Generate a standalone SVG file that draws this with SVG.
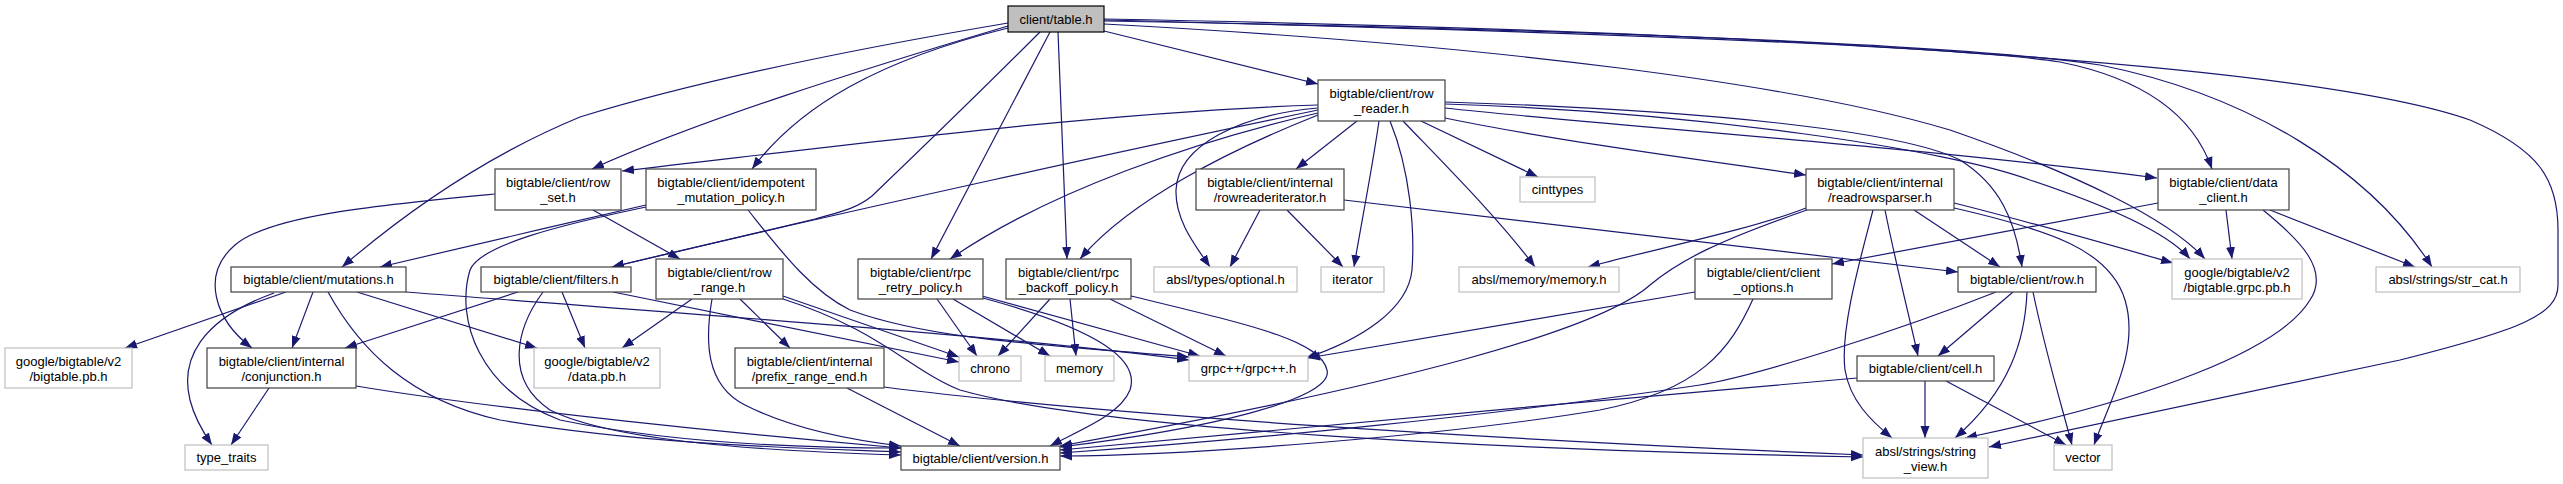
<svg xmlns="http://www.w3.org/2000/svg" width="2563" height="484" viewBox="0 0 2563 484">
<style>
text{font-family:"Liberation Sans",Arial,Helvetica,sans-serif;font-size:13px;text-anchor:middle;fill:#000}
.n rect{fill:#fff;stroke:#404040;stroke-width:1.2}
.x rect{fill:#fff;stroke:#bfbfbf;stroke-width:1.2}
.r rect{fill:#bfbfbf;stroke:#000;stroke-width:1.2}
#edges path{fill:none;stroke:#191970;stroke-width:1.2;marker-end:url(#a)}
</style>
<defs>
<marker id="a" markerUnits="userSpaceOnUse" markerWidth="13" markerHeight="10" refX="12" refY="5" orient="auto"><path d="M0,0.5 L12,5 L0,9.5z" fill="#191970"/></marker>
</defs>
<rect width="2563" height="484" fill="#fff"/>
<g id="edges">
<path d="M1104,31 L1318,84"/>
<path d="M1008,26 C860,70 700,120 592,169"/>
<path d="M1008,23 C860,48 700,80 580,117 C500,150 420,200 342,267"/>
<path d="M1008,28 C880,60 800,105 752,169"/>
<path d="M1040,32 C990,82 920,150 872,196 C855,210 835,213 815,219 L612,267"/>
<path d="M1050,32 L931,259"/>
<path d="M1058,32 C1061,120 1065,200 1067,259"/>
<path d="M1104,20 C1500,30 1950,45 2060,62 C2150,80 2195,120 2212,169"/>
<path d="M1104,24 C1500,45 1800,85 1950,130 C2080,175 2170,220 2205,259"/>
<path d="M1104,21 C1500,28 1950,42 2100,65 C2250,95 2370,170 2432,267"/>
<path d="M1104,19 C1700,30 2300,60 2470,120 C2540,150 2558,180 2558,230 L2558,285 C2558,315 2520,330 2400,360 L1989,447"/>
<path d="M1318,105 C1100,112 850,145 622,171"/>
<path d="M1318,110 C1150,145 850,210 612,267"/>
<path d="M1318,113 C1200,140 1050,190 950,259"/>
<path d="M1318,115 C1230,150 1130,200 1080,259"/>
<path d="M1318,108 C1240,115 1178,145 1176,190 C1175,220 1195,245 1210,267"/>
<path d="M1357,121 L1296,169"/>
<path d="M1379,121 C1372,170 1360,230 1354,267"/>
<path d="M1390,121 C1410,170 1415,230 1412,270 C1408,310 1360,340 1306,358"/>
<path d="M1403,121 C1450,170 1500,220 1535,267"/>
<path d="M1421,121 L1538,177"/>
<path d="M1440,117 C1550,140 1700,160 1806,175"/>
<path d="M1445,108 C1600,125 1900,145 2157,178"/>
<path d="M1445,102 C1700,110 1900,130 1960,160 C2000,185 2015,220 2022,267"/>
<path d="M1445,104 C1700,112 1950,150 2030,180 C2120,210 2170,235 2190,259"/>
<path d="M1260,210 L1230,267"/>
<path d="M1287,210 L1343,267"/>
<path d="M1344,200 L1958,272"/>
<path d="M1806,208 C1750,230 1650,250 1588,267"/>
<path d="M1807,210 C1720,240 1680,260 1650,285 C1600,330 1400,385 1060,446"/>
<path d="M1873,210 C1860,260 1840,330 1845,370 C1850,400 1870,420 1892,438"/>
<path d="M1885,210 C1895,260 1910,320 1918,356"/>
<path d="M1914,210 L2000,267"/>
<path d="M1954,203 C2030,222 2110,245 2173,263"/>
<path d="M1954,208 C2050,230 2110,250 2125,300 C2140,350 2110,400 2094,445"/>
<path d="M2158,203 L1832,264"/>
<path d="M2226,210 L2232,259"/>
<path d="M2263,210 C2300,240 2330,270 2310,300 C2280,350 2150,400 1965,438"/>
<path d="M2270,210 L2415,267"/>
<path d="M1695,292 L1308,358"/>
<path d="M1753,299 C1730,350 1700,390 1600,410 C1450,435 1200,455 1060,456"/>
<path d="M2013,292 L1938,356"/>
<path d="M1996,292 C1900,330 1760,375 1700,385 C1500,415 1250,440 1060,453"/>
<path d="M2027,292 C2025,340 2010,390 1955,438"/>
<path d="M2033,292 C2045,350 2060,400 2072,445"/>
<path d="M1857,378 C1600,400 1300,428 1060,450"/>
<path d="M1925,381 L1925,438"/>
<path d="M1946,381 L2066,445"/>
<path d="M313,292 L292,348"/>
<path d="M286,292 L125,348"/>
<path d="M274,293 C200,320 180,360 190,400 C195,420 205,435 212,445"/>
<path d="M357,292 L537,348"/>
<path d="M328,292 C360,350 410,400 500,420 C650,445 800,448 901,452"/>
<path d="M406,292 C700,315 1000,335 1189,360"/>
<path d="M518,292 L345,348"/>
<path d="M562,292 L585,348"/>
<path d="M543,292 C515,330 505,380 550,410 C620,445 800,452 901,455"/>
<path d="M613,292 L959,362"/>
<path d="M646,205 C560,225 450,250 380,267"/>
<path d="M646,207 C560,225 480,245 470,270 C455,320 480,390 560,420 C680,445 820,448 901,448"/>
<path d="M748,210 C780,250 810,290 850,310 C930,340 1050,345 1189,357"/>
<path d="M269,388 L231,445"/>
<path d="M356,386 C500,410 750,435 901,448"/>
<path d="M495,194 C380,205 270,215 235,245 C200,275 215,320 252,348"/>
<path d="M593,210 L680,259"/>
<path d="M692,299 L622,348"/>
<path d="M740,299 L790,348"/>
<path d="M712,299 C705,340 705,385 745,405 C790,428 850,440 901,446"/>
<path d="M783,296 L959,357"/>
<path d="M783,299 C880,330 910,370 960,390 C1100,430 1500,450 1863,457"/>
<path d="M847,388 L960,446"/>
<path d="M884,387 C1100,415 1500,440 1863,455"/>
<path d="M937,299 L977,356"/>
<path d="M953,299 L1050,356"/>
<path d="M982,296 L1200,356"/>
<path d="M983,298 C1100,330 1140,360 1130,390 C1120,415 1080,430 1050,446"/>
<path d="M1050,299 L998,356"/>
<path d="M1070,299 L1076,356"/>
<path d="M1110,299 L1226,356"/>
<path d="M1131,296 C1250,325 1320,340 1327,370 C1335,400 1200,430 1060,447"/>
</g>
<g id="table" class="r"><rect x="1008" y="6" width="96" height="26"/><text x="1056" y="23.5">client/table.h</text></g>
<g id="row_reader" class="n"><rect x="1318" y="80" width="127" height="41"/><text x="1381.5" y="98">bigtable/client/row</text><text x="1381.5" y="112.5">_reader.h</text></g>
<g id="row_set" class="n"><rect x="495" y="169" width="126" height="41"/><text x="558" y="187">bigtable/client/row</text><text x="558" y="201.5">_set.h</text></g>
<g id="idempotent" class="n"><rect x="646" y="169" width="170" height="41"/><text x="731" y="187">bigtable/client/idempotent</text><text x="731" y="201.5">_mutation_policy.h</text></g>
<g id="rowreaderiterator" class="n"><rect x="1196" y="169" width="148" height="41"/><text x="1270" y="187">bigtable/client/internal</text><text x="1270" y="201.5">/rowreaderiterator.h</text></g>
<g id="cinttypes" class="x"><rect x="1520" y="177" width="75" height="25"/><text x="1557.5" y="194">cinttypes</text></g>
<g id="readrowsparser" class="n"><rect x="1806" y="169" width="148" height="41"/><text x="1880" y="187">bigtable/client/internal</text><text x="1880" y="201.5">/readrowsparser.h</text></g>
<g id="data_client" class="n"><rect x="2158" y="169" width="131" height="41"/><text x="2223.5" y="187">bigtable/client/data</text><text x="2223.5" y="201.5">_client.h</text></g>
<g id="mutations" class="n"><rect x="231" y="267" width="175" height="25"/><text x="318.5" y="284">bigtable/client/mutations.h</text></g>
<g id="filters" class="n"><rect x="481" y="267" width="150" height="25"/><text x="556" y="284">bigtable/client/filters.h</text></g>
<g id="row_range" class="n"><rect x="656" y="259" width="127" height="40"/><text x="719.5" y="277">bigtable/client/row</text><text x="719.5" y="291.5">_range.h</text></g>
<g id="rpc_retry" class="n"><rect x="858" y="259" width="125" height="40"/><text x="920.5" y="277">bigtable/client/rpc</text><text x="920.5" y="291.5">_retry_policy.h</text></g>
<g id="rpc_backoff" class="n"><rect x="1006" y="259" width="125" height="40"/><text x="1068.5" y="277">bigtable/client/rpc</text><text x="1068.5" y="291.5">_backoff_policy.h</text></g>
<g id="optional" class="x"><rect x="1154" y="267" width="143" height="25"/><text x="1225.5" y="284">absl/types/optional.h</text></g>
<g id="iterator" class="x"><rect x="1321" y="267" width="63" height="25"/><text x="1352.5" y="284">iterator</text></g>
<g id="memory_h" class="x"><rect x="1459" y="267" width="160" height="25"/><text x="1539" y="284">absl/memory/memory.h</text></g>
<g id="client_options" class="n"><rect x="1695" y="259" width="137" height="40"/><text x="1763.5" y="277">bigtable/client/client</text><text x="1763.5" y="291.5">_options.h</text></g>
<g id="row" class="n"><rect x="1958" y="267" width="138" height="25"/><text x="2027" y="284">bigtable/client/row.h</text></g>
<g id="grpc_pb" class="x"><rect x="2172" y="259" width="130" height="40"/><text x="2237" y="277">google/bigtable/v2</text><text x="2237" y="291.5">/bigtable.grpc.pb.h</text></g>
<g id="str_cat" class="x"><rect x="2376" y="267" width="144" height="25"/><text x="2448" y="284">absl/strings/str_cat.h</text></g>
<g id="bigtable_pb" class="x"><rect x="5" y="348" width="127" height="40"/><text x="68.5" y="366">google/bigtable/v2</text><text x="68.5" y="380.5">/bigtable.pb.h</text></g>
<g id="conjunction" class="n"><rect x="207" y="348" width="149" height="40"/><text x="281.5" y="366">bigtable/client/internal</text><text x="281.5" y="380.5">/conjunction.h</text></g>
<g id="data_pb" class="x"><rect x="534" y="348" width="126" height="40"/><text x="597" y="366">google/bigtable/v2</text><text x="597" y="380.5">/data.pb.h</text></g>
<g id="prefix_range_end" class="n"><rect x="735" y="348" width="149" height="40"/><text x="809.5" y="366">bigtable/client/internal</text><text x="809.5" y="380.5">/prefix_range_end.h</text></g>
<g id="chrono" class="x"><rect x="959" y="356" width="62" height="25"/><text x="990" y="373">chrono</text></g>
<g id="memory" class="x"><rect x="1045" y="356" width="69" height="25"/><text x="1079.5" y="373">memory</text></g>
<g id="grpcpp" class="x"><rect x="1189" y="356" width="119" height="25"/><text x="1248.5" y="373">grpc++/grpc++.h</text></g>
<g id="cell" class="n"><rect x="1857" y="356" width="137" height="25"/><text x="1925.5" y="373">bigtable/client/cell.h</text></g>
<g id="type_traits" class="x"><rect x="185" y="445" width="83" height="25"/><text x="226.5" y="462">type_traits</text></g>
<g id="version" class="n"><rect x="901" y="446" width="159" height="24"/><text x="980.5" y="462.5">bigtable/client/version.h</text></g>
<g id="string_view" class="x"><rect x="1863" y="438" width="125" height="40"/><text x="1925.5" y="456">absl/strings/string</text><text x="1925.5" y="470.5">_view.h</text></g>
<g id="vector" class="x"><rect x="2054" y="445" width="58" height="25"/><text x="2083" y="462">vector</text></g>
</svg>
